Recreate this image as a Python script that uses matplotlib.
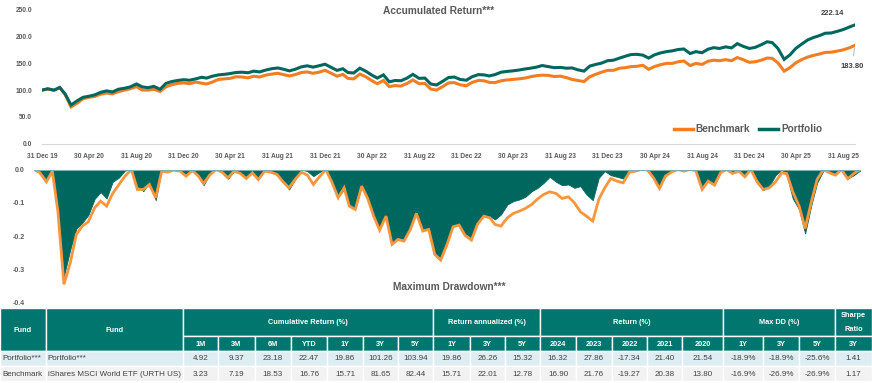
import numpy as np
import pandas as pd
import matplotlib
matplotlib.use("Agg")
import matplotlib.pyplot as plt
from matplotlib.patches import Rectangle
from matplotlib.lines import Line2D

plt.rcParams['font.family'] = ['Liberation Sans', 'DejaVu Sans']

# ---------------- data ----------------
# accumulated return, semi-monthly (15th and month end), 31 Dec 19 .. 30 Sep 25
bench_acc = [100.0,
    102.0, 99.5, 104.5, 91.5, 68.5, 75.5, 84.0, 86.5, 88.0, 92.5, 94.5, 93.0,
    97.0, 100.0, 102.5, 106.5, 100.0, 100.0, 101.5, 97.5, 106.0, 110.0, 112.5, 113.5,
    112.0, 115.0, 113.0, 111.5, 115.0, 120.0, 121.0, 122.0, 125.0, 124.5, 123.0, 126.0,
    124.5, 128.0, 130.0, 131.5, 129.0, 126.5, 129.0, 133.0, 134.0, 131.5, 133.5, 137.0,
    132.0, 126.0, 129.5, 122.0, 121.0, 130.0, 125.0, 118.0, 112.0, 118.0, 106.5, 108.5,
    107.5, 112.5, 119.0, 112.0, 112.5, 102.0, 100.0, 106.5, 113.5, 114.0, 110.0, 108.0,
    114.5, 118.0, 117.5, 114.5, 114.0, 117.5, 119.0, 120.0, 121.0, 122.5, 125.0, 127.0,
    128.0, 127.5, 125.5, 126.0, 123.5, 120.0, 118.0, 116.0, 125.0, 129.5, 133.5, 137.0,
    137.0, 141.0, 142.0, 144.0, 144.5, 146.5, 139.0, 144.0, 147.5, 150.0, 150.0, 153.0,
    154.5, 146.0, 150.0, 148.0, 154.0, 156.0, 155.0, 157.0, 155.0, 161.0, 157.0, 152.0,
    153.0, 156.0, 160.0, 159.5, 151.0, 135.5, 142.0, 151.0, 157.0, 162.0, 165.0, 167.5,
    170.5, 171.0, 173.0, 175.5, 179.0, 183.80]
port_acc = [100.0,
    102.5, 100.0, 105.0, 92.5, 72.0, 80.0, 86.5, 88.5, 91.0, 96.0, 98.5, 96.5,
    101.5, 103.5, 106.0, 111.5, 106.0, 104.5, 107.0, 101.5, 112.5, 116.0, 118.0, 119.5,
    118.5, 121.0, 124.0, 122.5, 126.0, 128.5, 129.5, 131.0, 133.0, 133.5, 132.5, 135.5,
    134.0, 137.5, 140.0, 141.5, 139.0, 136.0, 139.0, 143.5, 145.5, 143.0, 145.5, 148.5,
    143.0, 137.0, 140.0, 133.0, 132.0, 141.0, 135.5, 128.5, 122.5, 128.5, 115.5, 118.0,
    117.5, 122.5, 129.5, 122.0, 122.5, 111.5, 109.5, 116.5, 123.5, 124.5, 120.0, 118.5,
    125.0, 129.0, 128.5, 126.5, 129.0, 133.5, 135.0, 136.0, 137.5, 139.5, 141.0, 143.0,
    146.0, 144.0, 142.0, 142.5, 141.0, 141.5, 138.0, 135.5, 145.0, 148.0, 150.5, 155.0,
    156.0, 160.0, 163.5, 166.5, 167.0, 165.5, 160.0, 166.0, 169.5, 172.0, 173.5, 176.0,
    177.0, 168.5, 172.0, 170.0, 176.5, 179.5, 178.0, 181.0, 179.0, 187.0, 182.0, 178.0,
    180.0, 185.0, 190.5, 189.0, 178.0, 157.5, 166.0, 178.0, 186.0, 194.0, 198.5, 202.0,
    206.5, 207.0, 210.0, 213.5, 218.0, 222.14]

# drawdown, semi-monthly, 31 Dec 19 .. 31 Aug 25
bench_dd = [0.0,
    -0.010, -0.037, -0.005, -0.127, -0.345, -0.280, -0.195, -0.170, -0.157, -0.115, -0.095, -0.110,
    -0.072, -0.045, -0.020, 0.000, -0.060, -0.060, -0.045, -0.085, -0.005, -0.008, -0.002, -0.005,
    -0.020, -0.003, -0.020, -0.042, -0.017, 0.000, -0.008, -0.025, -0.005, -0.012, -0.027, -0.010,
    -0.030, -0.005, -0.008, -0.015, -0.037, -0.055, -0.030, -0.008, -0.017, -0.045, -0.022, 0.000,
    -0.037, -0.085, -0.055, -0.110, -0.120, -0.050, -0.087, -0.140, -0.182, -0.140, -0.225, -0.210,
    -0.215, -0.180, -0.132, -0.185, -0.180, -0.255, -0.272, -0.225, -0.172, -0.167, -0.198, -0.212,
    -0.165, -0.140, -0.145, -0.165, -0.170, -0.145, -0.132, -0.125, -0.117, -0.105, -0.088, -0.075,
    -0.067, -0.072, -0.087, -0.082, -0.100, -0.127, -0.140, -0.155, -0.090, -0.055, -0.027, -0.035,
    -0.040, -0.008, -0.005, 0.000, 0.000, -0.025, -0.057, -0.020, -0.008, 0.000, -0.005, 0.000,
    -0.003, -0.060, -0.035, -0.047, -0.010, 0.000, -0.012, -0.005, -0.022, 0.000, -0.035, -0.060,
    -0.055, -0.037, -0.010, -0.012, -0.067, -0.110, -0.177, -0.100, -0.030, 0.000, -0.010, -0.017,
    0.000, -0.028, -0.012, 0.000]
port_dd = [0.0,
    -0.008, -0.030, -0.003, -0.120, -0.320, -0.240, -0.178, -0.160, -0.137, -0.088, -0.068, -0.087,
    -0.037, -0.024, -0.003, 0.000, -0.050, -0.065, -0.038, -0.092, 0.000, -0.002, 0.000, -0.002,
    -0.018, 0.000, -0.022, -0.047, -0.015, 0.000, -0.008, -0.028, -0.005, -0.010, -0.022, -0.008,
    -0.025, -0.003, -0.005, -0.012, -0.035, -0.060, -0.030, 0.000, -0.005, -0.020, -0.008, 0.000,
    -0.040, -0.082, -0.060, -0.105, -0.115, -0.052, -0.085, -0.135, -0.178, -0.135, -0.220, -0.205,
    -0.210, -0.175, -0.128, -0.180, -0.175, -0.250, -0.265, -0.220, -0.167, -0.162, -0.192, -0.205,
    -0.160, -0.138, -0.140, -0.150, -0.135, -0.105, -0.095, -0.090, -0.082, -0.065, -0.055, -0.040,
    -0.022, -0.037, -0.047, -0.045, -0.055, -0.050, -0.075, -0.092, -0.025, -0.005, -0.017, -0.022,
    -0.027, 0.000, 0.000, 0.000, -0.002, -0.022, -0.050, -0.015, -0.005, 0.000, -0.003, 0.000,
    0.000, -0.050, -0.030, -0.045, -0.008, 0.000, -0.010, -0.003, -0.018, 0.000, -0.040, -0.062,
    -0.050, -0.017, 0.000, -0.018, -0.087, -0.120, -0.192, -0.110, -0.040, -0.003, -0.008, -0.012,
    0.000, -0.027, -0.017, -0.003]

xtick_labels = ['31 Dec 19', '30 Apr 20', '31 Aug 20', '31 Dec 20', '30 Apr 21', '31 Aug 21',
                '31 Dec 21', '30 Apr 22', '31 Aug 22', '31 Dec 22', '30 Apr 23', '31 Aug 23',
                '31 Dec 23', '30 Apr 24', '31 Aug 24', '31 Dec 24', '30 Apr 25', '31 Aug 25']
acc_yticks = [0, 50, 100, 150, 200, 250]
dd_yticks = [0.0, -0.1, -0.2, -0.3, -0.4]

# table
fund_ids = ['Portfolio***', 'Benchmark']
fund_names = ['Portfolio***', 'iShares MSCI World ETF (URTH US)']
cum_periods = ['1M', '3M', '6M', 'YTD', '1Y', '3Y', '5Y']
ann_periods = ['1Y', '3Y', '5Y']
years = ['2024', '2023', '2022', '2021', '2020']
dd_periods = ['1Y', '3Y', '5Y']
sharpe_periods = ['3Y']
cum_ret = [[4.92, 9.37, 23.18, 22.47, 19.86, 101.26, 103.94],
           [3.23, 7.19, 18.53, 16.76, 15.71, 81.65, 82.44]]
ann_ret = [[19.86, 26.26, 15.32], [15.71, 22.01, 12.78]]
year_ret = [[16.32, 27.86, -17.34, 21.40, 21.54], [16.90, 21.76, -19.27, 20.38, 13.80]]
max_dd = [[-18.9, -18.9, -25.6], [-16.9, -26.9, -26.9]]
sharpe = [1.41, 1.17]


def semi_monthly(last):
    out = [pd.Timestamp('2019-12-31')]
    for p in pd.period_range('2020-01', last, freq='M'):
        out.append(pd.Timestamp(p.year, p.month, 15))
        out.append(p.to_timestamp(how='end').normalize())
    return out


acc_dates = semi_monthly('2025-09')
dd_dates = semi_monthly('2025-08')

TEAL = '#00675F'
ORANGE = '#F47D22'
ORANGE_DD = '#F7963C'
GREY = '#595959'
HEAD = '#00766F'

W, H = 872, 383
fig = plt.figure(figsize=(W / 100, H / 100), dpi=100)


def box(l, t, r, b):
    return [l / W, 1 - b / H, (r - l) / W, (b - t) / H]


# ---------------- accumulated return ----------------
ax1 = fig.add_axes(box(42, 10, 855, 143.5))
ax1.plot(acc_dates, bench_acc, color=ORANGE, lw=2.2, solid_joinstyle='miter')
ax1.plot(acc_dates, port_acc, color=TEAL, lw=2.2, solid_joinstyle='miter')
ax1.set_xlim(acc_dates[0], acc_dates[-1])
ax1.set_ylim(0, 250)
ax1.set_yticks(acc_yticks)
ax1.set_yticklabels([f'{v:.1f}' for v in acc_yticks])
ax1.set_xticks(pd.to_datetime(xtick_labels, format='%d %b %y'))
ax1.set_xticklabels(xtick_labels)
ax1.tick_params(length=0, labelsize=4.8, labelcolor=GREY)
ax1.tick_params(axis='x', pad=7)
ax1.tick_params(axis='y', pad=7)
for lab in ax1.get_xticklabels() + ax1.get_yticklabels():
    lab.set_fontweight('bold')
for s in ['top', 'right', 'left']:
    ax1.spines[s].set_visible(False)
ax1.spines['bottom'].set_color('#D9D9D9')
ax1.spines['bottom'].set_linewidth(0.8)

ax1.annotate(f'{port_acc[-1]:.2f}', xy=(acc_dates[-1], port_acc[-1]), xytext=(-16.5, 8.5),
             textcoords='offset points', ha='center', va='center',
             fontsize=5.5, fontweight='bold', color='#404040')
ax1.annotate(f'{bench_acc[-1]:.2f}', xy=(acc_dates[-1], bench_acc[-1]), xytext=(-2.2, -15),
             textcoords='offset points', ha='center', va='center',
             fontsize=5.5, fontweight='bold', color='#404040',
             arrowprops=dict(arrowstyle='-', color='#BFBFBF', lw=0.8, shrinkA=3, shrinkB=2))

fig.text(439 / W, 1 - 11 / H, 'Accumulated Return***', ha='center', va='center',
         fontsize=7.3, fontweight='bold', color=GREY)

handles = [Line2D([], [], color=ORANGE, lw=2.5), Line2D([], [], color=TEAL, lw=2.5)]
fig.legend(handles, ['Benchmark', 'Portfolio'], loc='center',
           bbox_to_anchor=(748 / W, 1 - 129.5 / H), ncol=2, frameon=False,
           prop={'weight': 'bold', 'size': 7.2}, labelcolor=GREY,
           handlelength=1.9, handletextpad=0.3, columnspacing=0.9)

# ---------------- drawdown ----------------
ax2 = fig.add_axes(box(34, 169.5, 860.2, 302.7))
ax2.fill_between(dd_dates, port_dd, 0, color=TEAL, lw=0.6, edgecolor=TEAL)
ax2.plot(dd_dates, bench_dd, color=ORANGE_DD, lw=2.0, solid_joinstyle='miter')
ax2.axhline(0, color='#7FAFAB', lw=0.8, clip_on=False)
ax2.set_xlim(dd_dates[0], dd_dates[-1])
ax2.set_ylim(-0.4, 0)
ax2.set_yticks(dd_yticks)
ax2.set_yticklabels([f'{v:.1f}' for v in dd_yticks])
ax2.set_xticks([])
ax2.tick_params(length=0, labelsize=5, labelcolor=GREY, pad=6.5)
for lab in ax2.get_yticklabels():
    lab.set_fontweight('bold')
for s in ax2.spines.values():
    s.set_visible(False)

fig.text(449 / W, 1 - 287 / H, 'Maximum Drawdown***', ha='center', va='center',
         fontsize=7.3, fontweight='bold', color=GREY)

# ---------------- table ----------------
tab = fig.add_axes([0, 0, 1, 1], zorder=-1)
tab.set_xlim(0, W)
tab.set_ylim(H, 0)
tab.axis('off')

col_edges = [0, 45.5, 183, 218, 255, 291, 327, 363, 398, 433, 470, 505, 540,
             576, 612, 647, 682, 723, 763, 799, 835, W]
row_edges = [308, 336, 351, 366, 381]
row_bg = ['#DDEDF2', '#F2F2F2']


def cell(c0, c1, r0, r1, color, text='', ha='center', tcolor='white', weight='bold', size=5.3):
    x0, x1 = col_edges[c0], col_edges[c1]
    y0, y1 = row_edges[r0], row_edges[r1]
    tab.add_patch(Rectangle((x0, y0), x1 - x0, y1 - y0, facecolor=color,
                            edgecolor='white', lw=1.0))
    if text:
        tx = (x0 + x1) / 2 if ha == 'center' else x0 + 2
        tab.text(tx, (y0 + y1) / 2 + 0.5, text, ha=ha, va='center', color=tcolor,
                 fontsize=size, fontweight=weight)


cell(0, 1, 0, 2, HEAD, 'Fund')
cell(1, 2, 0, 2, HEAD, 'Fund')
groups = [('Cumulative Return (%)', cum_periods), ('Return annualized (%)', ann_periods),
          ('Return (%)', years), ('Max DD (%)', dd_periods), ('', sharpe_periods)]
c = 2
for title, subs in groups:
    cell(c, c + len(subs), 0, 1, HEAD, title)
    for i, s in enumerate(subs):
        cell(c + i, c + i + 1, 1, 2, HEAD, s)
    c += len(subs)
sx = (col_edges[20] + col_edges[21]) / 2
tab.text(sx, 315.5, 'Sharpe', ha='center', va='center', color='white', fontsize=5.3, fontweight='bold')
tab.text(sx, 329.5, 'Ratio', ha='center', va='center', color='white', fontsize=5.3, fontweight='bold')

for r in range(2):
    vals = ([f'{v:.2f}' for v in cum_ret[r]] + [f'{v:.2f}' for v in ann_ret[r]] +
            [f'{v:.2f}' for v in year_ret[r]] + [f'{v:.1f}%' for v in max_dd[r]] +
            [f'{sharpe[r]:.2f}'])
    kw = dict(tcolor='#404040', weight='normal', size=5.8)
    cell(0, 1, 2 + r, 3 + r, row_bg[r], fund_ids[r], ha='left', **kw)
    cell(1, 2, 2 + r, 3 + r, row_bg[r], fund_names[r], ha='left', **kw)
    for i, v in enumerate(vals):
        cell(2 + i, 3 + i, 2 + r, 3 + r, row_bg[r], v, **kw)

fig.savefig('out.png', dpi=100)
